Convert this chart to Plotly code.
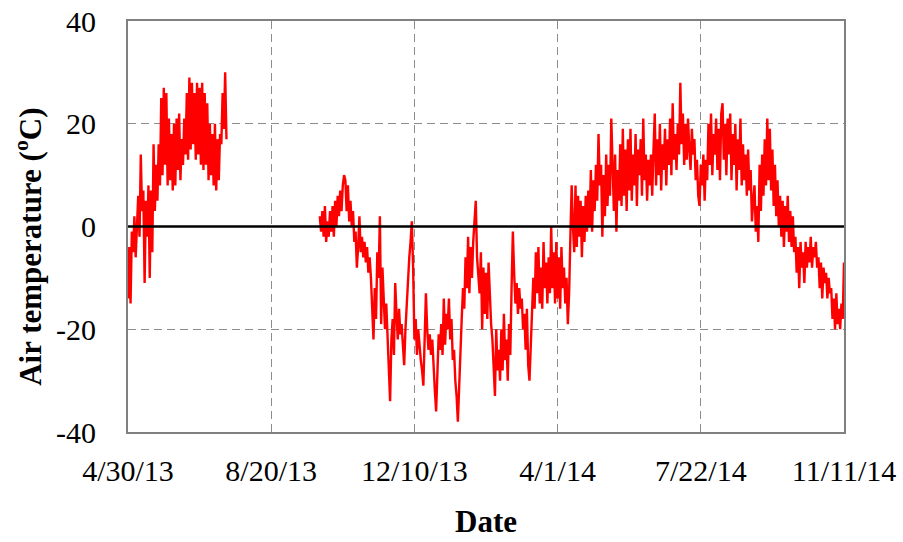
import pandas as pd
import plotly.graph_objects as go

# ---- data (daily readings) ----
seg1_start = "2013-04-30"
seg1_temp = [
    -14, -4, -15, -1, -5, 2, -6, 1, 6, -2,
    14, 3, 7, -11, 5, -2, 8, -10, 7, -5,
    16, 3, 12, 5, 16, 8, 25, 10, 27, 12,
    26, 8, 21, 9, 18, 7, 20, 8, 21, 11,
    22, 9, 17, 12, 21, 14, 26, 13, 29, 15,
    28, 16, 26, 13, 28, 14, 27, 12, 28, 11,
    26, 12, 24, 9, 20, 10, 18, 8, 20, 7,
    17, 9, 18, 16, 26, 19, 30, 17,
]

seg2_start = "2013-09-27"
seg2_temp = [
    2, -1, 3, -2, 4, -3, 1, -2, 3, -1,
    4, -2, 5, 0, 6, 2, 7, 3, 8, 10,
    9, 3, 8, 1, 5, 0, 3, -3, -1, -8,
    -4, 2, -5, -2, -6, -3, -7, -4, -9, -6,
    -10, -15, -22, -12, -18, -5, -10, 2, -19, -8,
    -14, -20, -15, -21, -25, -34, -22, -18, -25, -11,
    -17, -22, -16, -21, -19, -24, -27, -20, -15, -10,
    -6, -3, 1, -8, -22, -18, -25, -20, -24, -26,
    -28, -31, -22, -13, -20, -24, -21, -25, -22, -28,
    -32, -36, -28, -21, -24, -19, -25, -14, -23, -17,
    -20, -14, -22, -18, -26, -24, -30, -33, -38, -30,
    -24, -18, -12, -16, -6, -12, -2, -13, -4, -10,
    -3, 1, 5, -6, -10, -13, -5, -20, -8, -17,
    -9, -18, -7, -15, -19, -22, -27, -33, -20, -28,
    -24, -30, -20, -28, -17, -26, -22, -30, -19, -25,
    -12, -1, -9, -15, -11, -17, -12, -16, -14, -20,
    -17, -24, -16, -27, -30, -22, -17, -10, -16, -5,
    -13, -4, -15, -8, -16, -3, -12, -7, -15, -6,
    -13, 0, -12, -5, -15, -3, -14, -6, -16, -4,
    -12, -8, -15, -10, -19, -13, -2, 8, 0, -5,
    8, -4, 6, -2, 5, -6, 4, -3, 6, -1,
    7, 0, 11, -1, 9, 3, 12, 5, 18, 8,
    12, -2, 10, 2, 14, 4, 12, 6, 21, 10,
    3, 14, -1, 11, 5, 16, 4, 19, 6, 15,
    3, 17, 7, 19, 5, 14, 8, 18, 4, 15,
    10, 17, 6, 21, 9, 14, 5, 13, 8, 14,
    6, 15, 22, 8, 17, 10, 20, 7, 16, 11,
    19, 8, 17, 12, 21, 10, 24, 13, 18, 11,
    20, 14, 28, 16, 22, 12, 20, 13, 21, 15,
    11, 19, 14, 17, 9, 13, 6, 4, 12, 8,
    14, 5, 13, 9, 20, 12, 22, 10, 18, 14,
    21, 11, 19, 9, 22, 24, 13, 20, 10, 21,
    14, 22, 9, 18, 12, 20, 7, 17, 11, 21,
    8, 16, 9, 14, 6, 15, 7, 11, 1, 5,
    8, -1, 4, -3, 12, 3, 14, 6, 17, 8,
    21, 9, 19, 7, 15, 4, 12, 2, 9, 0,
    6, -2, 5, -4, 4, -1, 6, -3, 3, -4,
    2, -5, -2, -9, -4, -12, -3, -8, -5, -11,
    -3, -8, -4, -7, -2, -8, -4, -6, -3, -8,
    -6, -12, -7, -14, -8, -11, -9, -14, -10, -13,
    -12, -18, -14, -20, -13, -19, -16, -20, -15, -18,
    -7,
]

x_tick_dates = ["2013-04-30", "2013-08-20", "2013-12-10", "2014-04-01", "2014-07-22", "2014-11-11"]
x_tick_labels = ["4/30/13", "8/20/13", "12/10/13", "4/1/14", "7/22/14", "11/11/14"]
y_tick_vals = [-40, -20, 0, 20, 40]
y_tick_labels = ["-40", "-20", "0", "20", "40"]

dates1 = pd.date_range(seg1_start, periods=len(seg1_temp), freq="D")
dates2 = pd.date_range(seg2_start, periods=len(seg2_temp), freq="D")

FONT = "Liberation Serif, Times New Roman, serif"
RED = "#FF0000"
GRID = "#8C8C8C"

fig = go.Figure()
for d, t in ((dates1, seg1_temp), (dates2, seg2_temp)):
    fig.add_trace(go.Scatter(x=d, y=t, mode="lines",
                             line=dict(color=RED, width=2.4), showlegend=False))

# black zero line drawn above the data
fig.add_shape(type="line", xref="paper", x0=0, x1=1, yref="y", y0=0, y1=0,
              line=dict(color="black", width=2.5), layer="above")

fig.update_layout(
    width=903, height=542,
    margin=dict(l=128, r=59, t=21, b=110),
    paper_bgcolor="white", plot_bgcolor="white",
    font=dict(family=FONT, size=30, color="black"),
    xaxis=dict(
        type="date", automargin=False,
        range=[x_tick_dates[0], x_tick_dates[-1]],
        tickmode="array", tickvals=x_tick_dates, ticktext=x_tick_labels,
        ticks="", showgrid=True, gridcolor=GRID, gridwidth=1.3, griddash="8px,5px",
        showline=True, linecolor="#808080", linewidth=2, mirror=True,
        zeroline=False, ticklabelstandoff=11,
        tickfont=dict(family=FONT, size=30, color="black"),
    ),
    yaxis=dict(
        range=[-40, 40], automargin=False,
        tickmode="array", tickvals=y_tick_vals, ticktext=y_tick_labels,
        ticks="", showgrid=True, gridcolor=GRID, gridwidth=1.3, griddash="8px,5px",
        showline=True, linecolor="#808080", linewidth=2, mirror=True,
        zeroline=False, ticklabelstandoff=24,
        tickfont=dict(family=FONT, size=30, color="black"),
    ),
    annotations=[
        dict(text="<b>Date</b>", xref="paper", yref="paper", x=0.5, y=-0.217,
             xanchor="center", yanchor="middle", showarrow=False,
             font=dict(family=FONT, size=31, color="black")),
        dict(text="<b>Air temperature (<sup>o</sup>C)</b>", xref="paper", yref="paper",
             x=-0.14, y=0.45, xanchor="center", yanchor="middle", textangle=-90,
             showarrow=False, font=dict(family=FONT, size=31, color="black")),
    ],
)

fig.write_html("out.html")
